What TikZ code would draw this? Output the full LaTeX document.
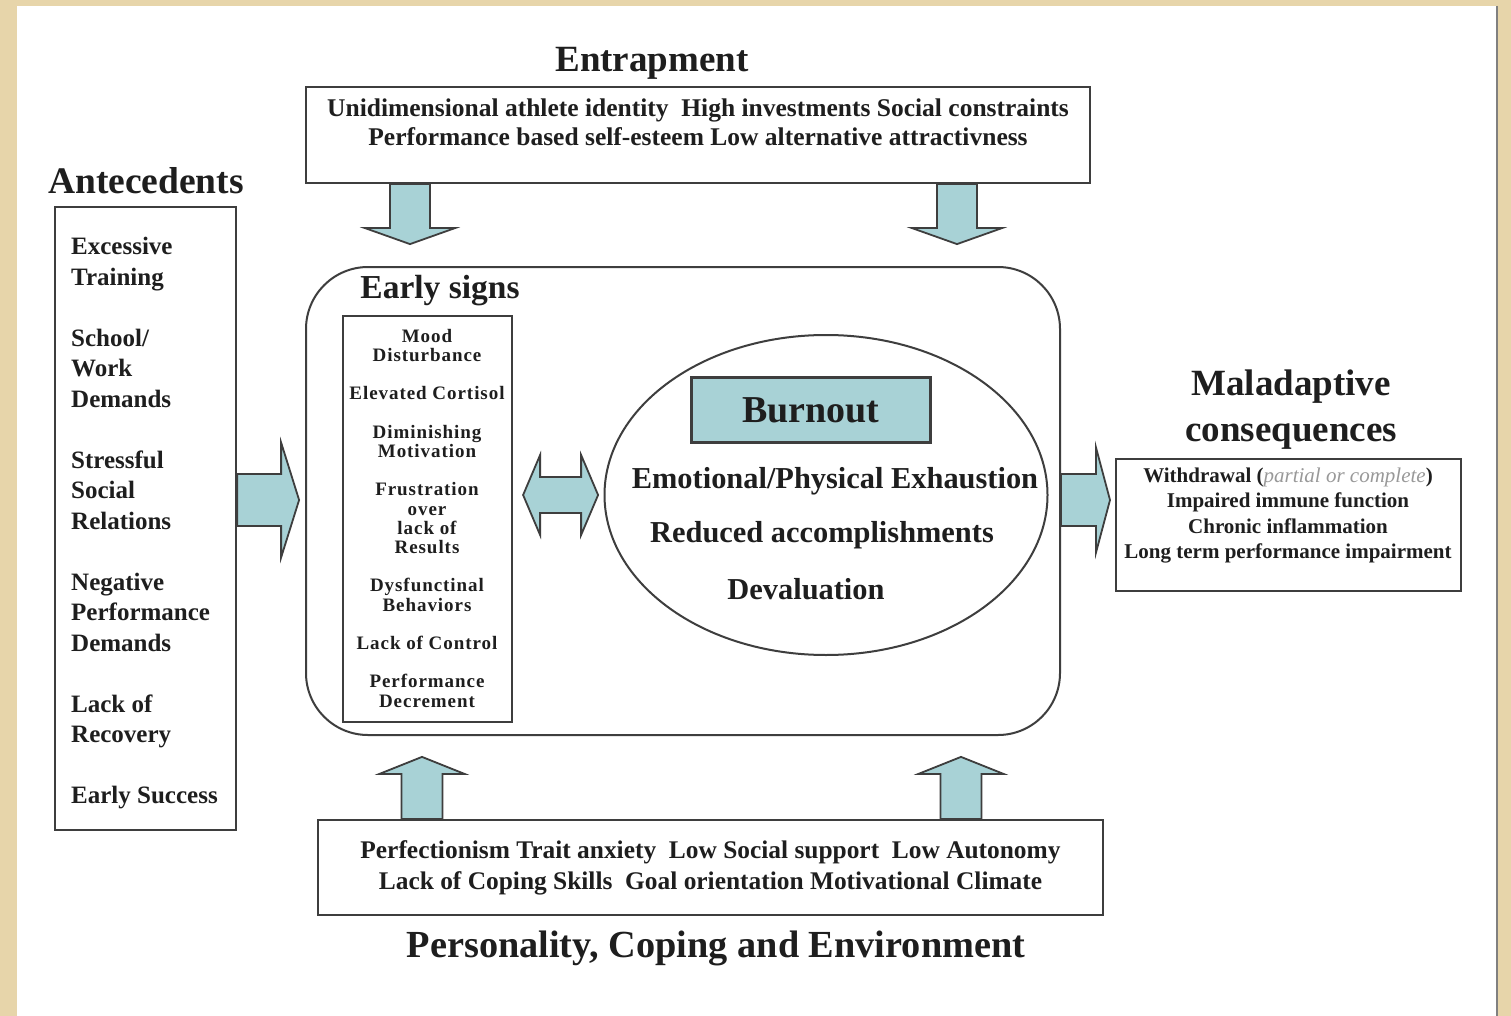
\documentclass[tikz,border=0pt]{standalone}
\usepackage{fontspec}
\setmainfont{Liberation Serif}
\usepackage{tikz}
\usetikzlibrary{positioning}
\usetikzlibrary{calc,shapes.geometric}
\definecolor{parchment}{RGB}{231,213,170}
\definecolor{burnblue}{RGB}{168,210,214}
\definecolor{framegray}{RGB}{62,62,62}
\definecolor{inkgray}{RGB}{30,30,30}
\newcommand\txtsize[2]{\fontsize{#1}{#2}\selectfont\bfseries}

\tikzset{
  box/.style={draw=framegray, line width=2.2pt, inner sep=0pt},
  fat/.style={draw=framegray, fill=burnblue, line width=1.8pt, line join=miter},
  % length / half shaft / half head / head length
  pics/fatarrow/.style args={#1/#2/#3/#4}{code={
    \draw[fat] (0,-#2) -- (#1-#4,-#2) -- (#1-#4,-#3) -- (#1,0) -- (#1-#4,#3) -- (#1-#4,#2) -- (0,#2) -- cycle;
  }},
  pics/fatboth/.style args={#1/#2/#3/#4}{code={
    \draw[fat] (0,0) -- (#4,-#3) -- (#4,-#2) -- (#1-#4,-#2) -- (#1-#4,-#3) -- (#1,0)
      -- (#1-#4,#3) -- (#1-#4,#2) -- (#4,#2) -- (#4,#3) -- cycle;
  }}
}

\begin{document}
\begin{tikzpicture}[x=1pt,y=-1pt, every node/.style={text=inkgray}]
    \useasboundingbox (0,0) rectangle (1511,1016);
    \fill[parchment] (0,0) rectangle (1511,1016);
    \fill[white] (17,6) rectangle (1497,1016);
    \draw[gray, line width=2pt] (1497,6) -- (1497,1016);

    % top: entrapment
    \node(entr) [box, minimum width=784pt, minimum height=96pt] at (698,135) {};
    \node(entrtext) at (698,122) [align=center, font=\txtsize{25.5}{29}]
      {Unidimensional athlete identity\ \ High investments Social constraints\\
       Performance based self-esteem Low alternative attractivness};
    \node(entrtitle) at (652,63) [font=\txtsize{37}{44}] {Entrapment};

    % left: antecedents
    \node(ante) [box, minimum width=181pt, minimum height=623pt] at (145.5,518.5) {};
    \node(antetext) [anchor=north west, inner sep=0pt, align=left, font=\txtsize{25}{30.5}] at (71,237)
      {Excessive\\Training\\[30.5pt]School/\\Work\\Demands\\[30.5pt]Stressful\\Social\\Relations\\[30.5pt]
       Negative\\Performance\\Demands\\[30.5pt]Lack of\\Recovery\\[30.5pt]Early Success};
    \node(antetitle) at (146,181) [font=\txtsize{37.5}{44}] {Antecedents};

    % middle: early signs around burnout
    \node(early) [draw=framegray, line width=2pt, rounded corners=62pt,
      minimum width=754pt, minimum height=468pt] at (683,501) {};
    \node(earlytitle) at (440,291) [font=\txtsize{33.5}{36}] {Early signs};
    \node(signs) [box, minimum width=169pt, minimum height=406pt] at (427.5,519) {};
    \node(signstext) [anchor=north, inner sep=0pt, align=center,
      font=\txtsize{19}{19.2}\addfontfeature{LetterSpace=5}] at (427,329)
      {Mood\\Disturbance\\[19.2pt]Elevated Cortisol\\[19.2pt]Diminishing\\Motivation\\[19.2pt]
       Frustration\\over\\lack of\\Results\\[19.2pt]Dysfunctinal\\Behaviors\\[19.2pt]
       Lack of Control\\[19.2pt]Performance\\Decrement};

    \node(burn) [ellipse, draw=framegray, line width=2pt, inner sep=0pt,
      minimum width=443pt, minimum height=320pt] at (826,495) {};
    \node(burnbox) [box, fill=burnblue, minimum width=239pt, minimum height=65pt,
      font=\txtsize{38}{40}] at (811,410) {Burnout};
    \node(exh) at (835,481) [font=\txtsize{30.4}{32}] {Emotional/Physical Exhaustion};
    \node(red) at (822,535) [font=\txtsize{30.4}{32}] {Reduced accomplishments};
    \node(dev) at (806,589) [font=\txtsize{30.4}{32}] {Devaluation};

    % right: consequences
    \node(mal) [box, minimum width=345pt, minimum height=132pt] at (1288.5,525) {};
    \node(maltext) at (1288,515.5) [align=center, font=\txtsize{21}{25.5}]
      {Withdrawal (\textmd{\itshape\color{black!40}partial or complete})\\
       Impaired immune function\\Chronic inflammation\\Long term performance impairment};
    \node(maltitle) at (1291,410) [align=center, font=\txtsize{37}{46}] {Maladaptive\\consequences};

    % bottom: personality
    \node(pers) [box, minimum width=785pt, minimum height=95pt, align=center,
      font=\txtsize{25.4}{31}] at (710.5,867.5)
      {Perfectionism Trait anxiety\ \ Low Social support\ \ Low Autonomy\\
       Lack of Coping Skills\ \ Goal orientation Motivational Climate};
    \node(perstitle) at (716,948) [font=\txtsize{38.3}{42}] {Personality, Coping and Environment};

    % block arrows
    \pic at (ante.east |- 0,500) {fatarrow=62/26/57.5/18};
    \pic at (early.east |- 0,500) {fatarrow=49/26/52.5/14};
    \pic at ($(signs.east |- burn.center)+(10,0)$) {fatboth=75/18/40/17};
    \pic[rotate=-90] at (410,0 |- entr.south) {fatarrow=60/20/45/16};
    \pic[rotate=-90] at (957,0 |- entr.south) {fatarrow=60/20/45/16};
    \pic[rotate=90] at (422,0 |- pers.north) {fatarrow=62/20.5/42.5/17};
    \pic[rotate=90] at (961,0 |- pers.north) {fatarrow=62/20.5/42.5/17};
    % \draw[help lines] (0,0) grid[step=100] (1511,1016);
\end{tikzpicture}
\end{document}
